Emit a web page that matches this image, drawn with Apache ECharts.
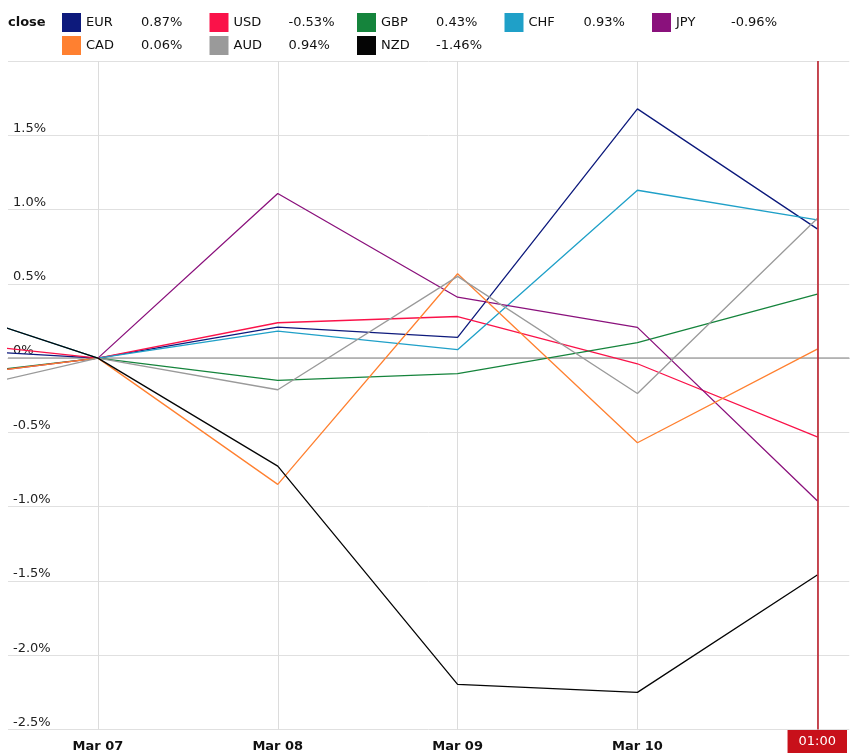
<!DOCTYPE html>
<html>
<head>
<meta charset="utf-8">
<script src="https://cdn.jsdelivr.net/npm/echarts@6/dist/echarts.min.js"></script>
<style>
html,body{margin:0;padding:0;background:#fff;}
#chart{width:850px;height:755px;}
</style>
</head>
<body>
<div id="chart"></div>
<script>
// x positions (days relative to Mar 07); first point (Mar 06) lies left of the visible area
const xPos = [-1, 0, 1, 2, 3, 4];
const xLabels = ['Mar 06', 'Mar 07', 'Mar 08', 'Mar 09', 'Mar 10', '01:00'];
const yTicks = [-2.5, -2.0, -1.5, -1.0, -0.5, 0, 0.5, 1.0, 1.5, 2.0];

const currencies = ['EUR', 'USD', 'GBP', 'CHF', 'JPY', 'CAD', 'AUD', 'NZD'];
const colors = ['#0d1a7c', '#fa1249', '#15843c', '#1fa0c8', '#8a117c', '#ff8030', '#9a9a9a', '#050505'];

const EUR = [0.07, 0, 0.209, 0.14, 1.678, 0.87];
const USD = [0.13, 0, 0.238, 0.28, -0.038, -0.53];
const GBP = [-0.14, 0, -0.15, -0.105, 0.104, 0.43];
const CHF = [0.40, 0, 0.182, 0.057, 1.13, 0.93];
const JPY = [-0.15, 0, 1.108, 0.41, 0.207, -0.96];
const CAD = [-0.15, 0, -0.85, 0.568, -0.57, 0.06];
const AUD = [-0.28, 0, -0.213, 0.55, -0.238, 0.94];
const NZD = [0.40, 0, -0.727, -2.196, -2.25, -1.46];

const lastValues = ['0.87%', '-0.53%', '0.43%', '0.93%', '-0.96%', '0.06%', '0.94%', '-1.46%'];
const seriesValues = [EUR, USD, GBP, CHF, JPY, CAD, AUD, NZD];

const FONT = '"DejaVu Sans", Verdana, sans-serif';

const series = currencies.map((name, i) => {
  const s = {
    name: name,
    type: 'line',
    showSymbol: false,
    symbol: 'none',
    clip: true,
    color: colors[i],
    lineStyle: { width: 1.3, color: colors[i] },
    data: xPos.map((x, j) => [x, seriesValues[i][j]])
  };
  if (i === 0) {
    s.markLine = {
      silent: true,
      symbol: 'none',
      label: { show: false },
      lineStyle: { color: '#aaaaaa', width: 1.5, type: 'solid' },
      data: [{ yAxis: 0 }],
      z: 1
    };
  }
  if (name === 'NZD') {
    s.markLine = {
      silent: true,
      symbol: 'none',
      label: { show: false },
      lineStyle: { color: '#b8101e', width: 1.5, type: 'solid' },
      data: [{ xAxis: 4 }]
    };
  }
  return s;
});

const chart = echarts.init(document.getElementById('chart'), null, { renderer: 'canvas' });
chart.setOption({
  animation: false,
  backgroundColor: '#ffffff',
  textStyle: { fontFamily: FONT },
  title: {
    text: 'close',
    left: 8,
    top: 16,
    padding: 0,
    textStyle: { fontFamily: FONT, fontSize: 13, fontWeight: 'bold', color: '#111' }
  },
  legend: {
    left: 62,
    top: 13,
    width: 740,
    padding: 0,
    itemWidth: 19,
    itemHeight: 19,
    itemGap: 4,
    icon: 'rect',
    selectedMode: false,
    data: currencies,
    formatter: function (name) {
      return '{n|' + name + '}{v|' + lastValues[currencies.indexOf(name)] + '}';
    },
    textStyle: {
      fontFamily: FONT,
      fontSize: 13,
      color: '#111',
      rich: {
        n: { width: 55, fontSize: 13, fontFamily: FONT, color: '#111', lineHeight: 19 },
        v: { width: 64.5, fontSize: 13, fontFamily: FONT, color: '#111', lineHeight: 19 }
      }
    }
  },
  grid: { left: 8, right: 0, top: 61, bottom: 25.5 },
  xAxis: {
    type: 'value',
    min: -0.5,
    max: 4.178,
    axisLine: { show: true, lineStyle: { color: '#cccccc', width: 1 } },
    axisTick: { show: false, customValues: [0, 1, 2, 3, 4] },
    splitLine: { show: true, lineStyle: { color: '#dcdcdc', width: 1 } },
    axisLabel: {
      customValues: [0, 1, 2, 3, 4],
      margin: 4,
      formatter: function (v) {
        const lbl = xLabels[xPos.indexOf(v)];
        return v === 4 ? '{hl|' + lbl + '}' : '{d|' + lbl + '}';
      },
      rich: {
        d: { fontFamily: FONT, fontSize: 13, fontWeight: 'bold', color: '#111', padding: [11, 0, 0, 0], lineHeight: 16 },
        hl: { fontFamily: FONT, fontSize: 13, color: '#ffffff', backgroundColor: '#c8101a', padding: [5, 11, 5, 11], lineHeight: 16 }
      }
    }
  },
  yAxis: {
    type: 'value',
    min: -2.5,
    max: 2.0,
    interval: 0.5,
    axisLine: { show: false },
    axisTick: { show: false },
    splitLine: { show: true, lineStyle: { color: '#e0e0e0', width: 1 } },
    axisLabel: {
      inside: true,
      margin: 5,
      verticalAlign: 'bottom',
      fontFamily: FONT,
      fontSize: 13,
      color: '#222',
      lineHeight: 14,
      formatter: function (v) {
        if (v === 2) return '';
        return (v === 0 ? '0' : v.toFixed(1)) + '%';
      }
    }
  },
  series: series
});
</script>
</body>
</html>
